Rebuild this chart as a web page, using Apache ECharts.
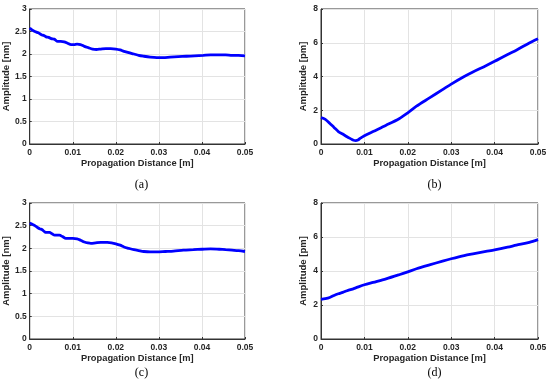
<!DOCTYPE html>
<html>
<head>
<meta charset="utf-8">
<script src="https://cdn.jsdelivr.net/npm/echarts@6/dist/echarts.min.js"></script>
<style>html,body{margin:0;padding:0;background:#fff}#c{width:550px;height:381px}</style>
</head>
<body>
<div id="c"></div>
<script>
// Panel (a): amplitude [nm] vs propagation distance [m]
const xA = [0,0.0006,0.0012,0.0020,0.0027,0.0033,0.0038,0.0044,0.0050,0.0057,0.0065,0.0072,0.0080,0.0088,0.0096,0.0103,0.0110,0.0118,0.0127,0.0136,0.0146,0.0155,0.0165,0.0177,0.0188,0.0200,0.0210,0.0219,0.0230,0.0242,0.0253,0.0265,0.0280,0.0295,0.0310,0.0326,0.0345,0.0364,0.0383,0.0403,0.0420,0.0440,0.0455,0.0470,0.0485,0.0500];
const yA = [2.58,2.53,2.50,2.47,2.43,2.41,2.38,2.37,2.34,2.33,2.28,2.28,2.27,2.24,2.21,2.21,2.22,2.21,2.17,2.14,2.11,2.10,2.11,2.12,2.12,2.11,2.09,2.06,2.03,2.00,1.97,1.95,1.93,1.92,1.92,1.93,1.94,1.95,1.96,1.97,1.98,1.98,1.98,1.97,1.97,1.96];
// Panel (b): amplitude [pm]
const xB = [0,0.001,0.002,0.003,0.004,0.005,0.006,0.007,0.0075,0.008,0.0085,0.009,0.010,0.012,0.015,0.018,0.020,0.022,0.025,0.028,0.030,0.033,0.035,0.038,0.040,0.043,0.045,0.048,0.050];
const yB = [1.56,1.46,1.23,0.98,0.74,0.59,0.43,0.29,0.22,0.20,0.23,0.33,0.49,0.74,1.11,1.50,1.85,2.24,2.73,3.22,3.55,4.00,4.27,4.64,4.90,5.31,5.56,5.99,6.24];
// Panel (c): amplitude [nm]
const xC = [0,0.0006,0.0012,0.0018,0.0023,0.0029,0.0035,0.0040,0.0046,0.0052,0.0058,0.0064,0.0069,0.0076,0.0084,0.0092,0.0100,0.0110,0.0118,0.0127,0.0135,0.0142,0.0153,0.0165,0.0180,0.0190,0.0200,0.0210,0.0219,0.0230,0.0242,0.0253,0.0265,0.0280,0.0295,0.0315,0.0334,0.0357,0.0380,0.0400,0.0420,0.0440,0.0455,0.0470,0.0485,0.0500];
const yC = [2.56,2.53,2.50,2.46,2.43,2.41,2.36,2.35,2.35,2.32,2.29,2.29,2.29,2.26,2.22,2.22,2.22,2.21,2.18,2.14,2.12,2.11,2.12,2.13,2.13,2.12,2.10,2.07,2.03,2.00,1.97,1.95,1.93,1.92,1.92,1.93,1.94,1.96,1.97,1.98,1.99,1.98,1.97,1.96,1.95,1.93];
// Panel (d): amplitude [pm]
const xD = [0,0.001,0.002,0.003,0.004,0.005,0.006,0.007,0.008,0.010,0.012,0.015,0.018,0.020,0.022,0.025,0.028,0.030,0.033,0.035,0.038,0.040,0.043,0.045,0.048,0.050];
const yD = [2.33,2.37,2.44,2.56,2.66,2.74,2.84,2.92,3.01,3.19,3.33,3.54,3.78,3.95,4.13,4.36,4.58,4.72,4.91,5.01,5.15,5.24,5.40,5.52,5.69,5.85];

const xTicks = ['0','0.01','0.02','0.03','0.04','0.05'];
const captions = ['(a)','(b)','(c)','(d)'];
const yNames = ['Amplitude [nm]','Amplitude [pm]','Amplitude [nm]','Amplitude [pm]'];
const xName = 'Propagation Distance [m]';

const grids = [
  {left:28, top:9, width:217, height:135},
  {left:321, top:9, width:217, height:135},
  {left:28, top:203, width:217, height:136},
  {left:321, top:203, width:217, height:136}
];
const yRanges = [[0,3,0.5],[0,8,2],[0,3,0.5],[0,8,2]];
const xs = [xA,xB,xC,xD], ys = [yA,yB,yC,yD];
const font = 'Liberation Sans, Arial, sans-serif';

const option = {
  animation:false,
  backgroundColor:'#fff',
  grid: grids.map(g => Object.assign({show:true, borderColor:'#333', borderWidth:1, backgroundColor:'#fff'}, g)),
  xAxis: grids.map((g,i) => ({
    type:'value', gridIndex:i, min:0, max:0.05, interval:0.01,
    name:xName, nameLocation:'middle', nameGap:15,
    nameTextStyle:{fontFamily:font, fontWeight:'bold', fontSize:9.3, color:'#262626'},
    axisLine:{show:true, lineStyle:{color:'#333', width:1}},
    axisTick:{show:true, inside:true, length:2, lineStyle:{color:'#333'}},
    axisLabel:{fontFamily:font, fontWeight:'bold', fontSize:8.5, color:'#262626', margin:4,
      formatter:(v)=> xTicks[Math.round(v/0.01)]},
    splitLine:{show:true, lineStyle:{color:'#e3e3e3', width:1}}
  })),
  yAxis: grids.map((g,i) => ({
    type:'value', gridIndex:i, min:yRanges[i][0], max:yRanges[i][1], interval:yRanges[i][2],
    name:yNames[i], nameLocation:'middle', nameGap:13,
    nameTextStyle:{fontFamily:font, fontWeight:'bold', fontSize:9.5, color:'#262626'},
    axisLine:{show:true, lineStyle:{color:'#333', width:1}},
    axisTick:{show:true, inside:true, length:2, lineStyle:{color:'#333'}},
    axisLabel:{fontFamily:font, fontWeight:'bold', fontSize:8.5, color:'#262626', margin:3},
    splitLine:{show:true, lineStyle:{color:'#e3e3e3', width:1}}
  })),
  series: xs.map((xv,i) => ({
    type:'line', xAxisIndex:i, yAxisIndex:i, showSymbol:false, smooth:0.3,
    lineStyle:{color:'#0000ff', width:2.8},
    data: xv.map((x,k)=>[x, ys[i][k]])
  })),
  title: captions.map((t,i) => ({
    text:t, left: grids[i].left + grids[i].width/2, top: i<2 ? 174 : 362, textAlign:'center',
    textStyle:{fontFamily:'Liberation Serif, Times New Roman, serif', fontWeight:'normal', fontSize:12, color:'#000'}
  }))
};
echarts.init(document.getElementById('c'), null, {renderer:'canvas'}).setOption(option);
</script>
</body>
</html>
